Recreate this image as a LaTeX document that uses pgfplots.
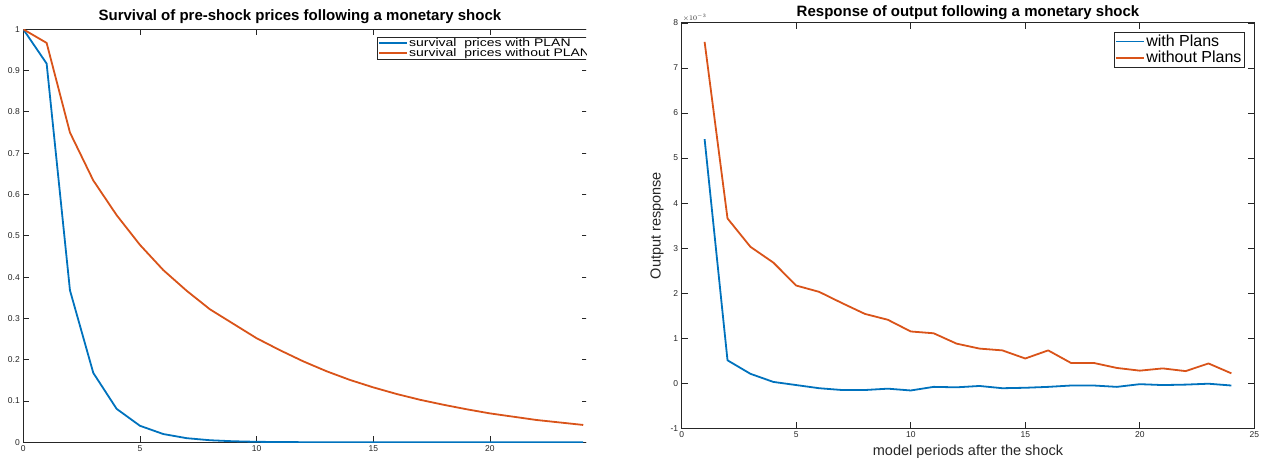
\documentclass[border=0pt]{standalone}
\usepackage{graphicx}
\usepackage{pgfplots}
\pgfplotsset{compat=1.18}
\usepackage{fontspec}
\setmainfont{Liberation Sans}

\definecolor{mblue}{rgb}{0,0.447,0.741}
\definecolor{morange}{rgb}{0.85,0.325,0.098}
\definecolor{maxis}{rgb}{0.15,0.15,0.15}

\pgfplotsset{
  mat/.style={
    scale only axis,
    axis line style={maxis, line width=1pt},
    every tick/.style={maxis, line width=0.8pt},
    major tick length=6pt,
    tick align=inside,
    tick label style={font=\fontsize{8.5}{9}\selectfont, text=maxis},
    /pgf/number format/assume math mode=true,
    label style={font=\fontsize{14.5}{16}\selectfont, text=maxis},
    legend cell align=left,
    legend image code/.code={\draw[##1] (0pt,0pt) -- (28pt,0pt);},
  },
  ln/.style={line width=1.8pt, line join=round},
}

% left: survival of pre-shock prices
\pgfplotstableread{
t  plan      noplan
0  1.0       1.0
1  0.917     0.967
2  0.368     0.750
3  0.168     0.634
4  0.081     0.550
5  0.040     0.478
6  0.020     0.417
7  0.010     0.367
8  0.005     0.322
9  0.0025    0.287
10 0.0012    0.252
11 0.0006    0.223
12 0.0003    0.196
13 0.00015   0.172
14 0.00008   0.151
15 0.00004   0.133
16 0.00002   0.117
17 0.00001   0.103
18 0.0       0.091
19 0.0       0.080
20 0.0       0.070
21 0.0       0.062
22 0.0       0.054
23 0.0       0.048
24 0.0       0.042
}\survival

% right: output response
\pgfplotstableread{
t  plan      noplan
1   0.00542   0.00758
2   0.00051   0.00366
3   0.00021   0.00303
4   0.00003   0.00268
5  -0.00004   0.00217
6  -0.00011   0.00203
7  -0.00015   0.00178
8  -0.00015   0.00154
9  -0.00012   0.00141
10 -0.00016   0.00115
11 -0.00008   0.00111
12 -0.00009   0.00088
13 -0.00006   0.00077
14 -0.00011   0.00073
15 -0.00010   0.00055
16 -0.00008   0.00073
17 -0.00005   0.00045
18 -0.00005   0.00045
19 -0.00008   0.00034
20 -0.00002   0.00028
21 -0.00004   0.00033
22 -0.00003   0.00027
23 -0.00001   0.00044
24 -0.00005   0.00022
}\output

\begin{document}
\begin{tikzpicture}
\useasboundingbox (0,0) rectangle (1266pt,458pt);

\begin{scope}
\clip (0,0) rectangle (586pt,458pt);
\begin{axis}[
  mat,
  at={(23.3pt,15.7pt)}, anchor=south west,
  width=564.6pt, height=413pt,
  xmin=0, xmax=24.2, ymin=0, ymax=1,
  xtick={0,5,...,20},
  ytick={0,0.1,...,1},
  title={Survival of pre-shock prices following a monetary shock},
  every axis title/.style={at={(0.49,1)}, anchor=base, yshift=8.6pt,
    font=\bfseries\fontsize{15}{17}\selectfont, text=black},
  legend style={at={(0.6265,1)}, anchor=north west, yshift=-7.4pt,
    font=\fontsize{11}{12}\selectfont, draw=maxis, line width=0.7pt,
    inner xsep=1pt, inner ysep=0.5pt, row sep=-1.5pt, nodes={inner sep=1pt}},
]
\addplot[ln, mblue] table[x=t, y=plan] {\survival};
\addlegendentry{\scalebox{1.27}[1]{survival\ \ prices with PLAN}}
\addplot[ln, morange] table[x=t, y=noplan] {\survival};
\addlegendentry{\scalebox{1.27}[1]{survival\ \ prices without PLAN}}
\end{axis}
\end{scope}

\begin{axis}[
  mat,
  at={(681.7pt,29.7pt)}, anchor=south west,
  width=572.6pt, height=405.3pt,
  xmin=0, xmax=25, ymin=-0.001, ymax=0.008,
  xtick={0,5,...,25},
  ytick={-0.001,0,0.001,0.002,0.003,0.004,0.005,0.006,0.007,0.008},
  scaled y ticks=base 10:3,
  tick scale binop=\times,
  every y tick scale label/.style={at={(rel axis cs:0,1)}, anchor=south west,
    inner sep=1pt, font=\fontsize{7}{8}\selectfont, text=maxis},
  title={Response of output following a monetary shock},
  every axis title/.style={at={(0.5,1)}, anchor=base, yshift=6.3pt,
    font=\bfseries\fontsize{15}{17}\selectfont, text=black},
  xlabel={model periods after the shock},
  ylabel={Output response},
  legend style={at={(1,1)}, anchor=north east, xshift=-10pt, yshift=-8.7pt,
    font=\fontsize{16}{18}\selectfont, draw=maxis, line width=0.7pt,
    inner xsep=1pt, inner ysep=1.5pt, row sep=0pt, nodes={inner sep=1.5pt}},
]
\addplot[ln, mblue] table[x=t, y=plan] {\output};
\addlegendentry{with Plans}
\addplot[ln, morange] table[x=t, y=noplan] {\output};
\addlegendentry{without Plans}
\end{axis}
\end{tikzpicture}
\end{document}
